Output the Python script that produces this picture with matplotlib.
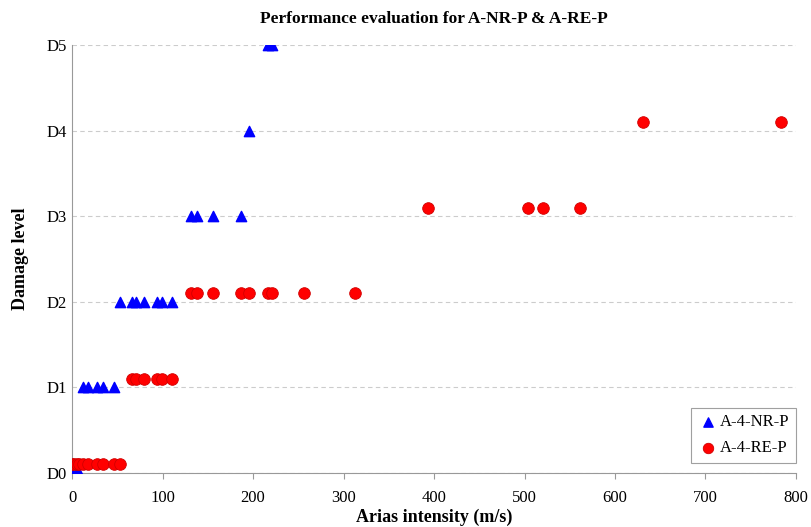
import matplotlib.pyplot as plt

# Du lieu doc tu hinh (Arias intensity, m/s)
levels = ['D0', 'D1', 'D2', 'D3', 'D4', 'D5']

nr_x = [0, 4, 8,
        12, 18, 28, 34, 46,
        53, 66, 71, 79, 94, 99, 110,
        131, 138, 156, 187,
        196,
        217, 221]
nr_y = [0, 0, 0,
        1, 1, 1, 1, 1,
        2, 2, 2, 2, 2, 2, 2,
        3, 3, 3, 3,
        4,
        5, 5]

re_x = [0, 2, 5, 8, 12, 18, 28, 34, 46, 53,
        66, 71, 79, 94, 99, 110,
        131, 138, 156, 187, 196, 217, 221, 256, 313,
        393, 504, 520, 561,
        631, 783]
re_y = [0, 0, 0, 0, 0, 0, 0, 0, 0, 0,
        1, 1, 1, 1, 1, 1,
        2, 2, 2, 2, 2, 2, 2, 2, 2,
        3, 3, 3, 3,
        4, 4]
re_shift = 0.1  # cham do nam hoi cao hon duong luoi

plt.rcParams['font.family'] = ['Liberation Serif', 'DejaVu Serif']

fig = plt.figure(figsize=(8.11, 5.27), dpi=100)
ax = fig.add_axes([0.0888, 0.1025, 0.8927, 0.8121])

ax.scatter(nr_x, nr_y, marker='^', s=55, color='#0000FF', label='A-4-NR-P', zorder=3)
ax.scatter(re_x, [y + re_shift for y in re_y], marker='o', s=70,
           color='#FF0000', edgecolor='#D00000', linewidth=0.6, label='A-4-RE-P', zorder=4)

ax.set_xlim(0, 800)
ax.set_ylim(0, 5)
ax.set_xticks(range(0, 801, 100))
ax.set_yticks(range(len(levels)))
ax.set_yticklabels(levels)
ax.tick_params(axis='x', labelsize=12, direction='out', length=4, color='#999999', pad=8)
ax.tick_params(axis='y', labelsize=12, length=0, pad=4)

ax.grid(axis='y', linestyle=(0, (4, 3)), color='#cccccc', linewidth=0.8)
ax.set_axisbelow(True)
for s in ['top', 'right']:
    ax.spines[s].set_visible(False)
ax.spines['left'].set_color('#999999')
ax.spines['bottom'].set_color('#999999')

ax.set_title('Performance evaluation for A-NR-P & A-RE-P', fontsize=12.5, fontweight='bold', pad=16)
ax.set_xlabel('Arias intensity (m/s)', fontsize=13, fontweight='bold', labelpad=2)
ax.set_ylabel('Damage level', fontsize=13, fontweight='bold', labelpad=12)

leg = ax.legend(loc='lower right', bbox_to_anchor=(1.0, 0.023), borderaxespad=0, fontsize=12,
                frameon=True, fancybox=False, edgecolor='#888888', handletextpad=0.1,
                borderpad=0.4, labelspacing=0.6, handlelength=1.2, markerscale=0.9)
leg.get_frame().set_linewidth(0.8)

fig.savefig('out.png', dpi=100)
